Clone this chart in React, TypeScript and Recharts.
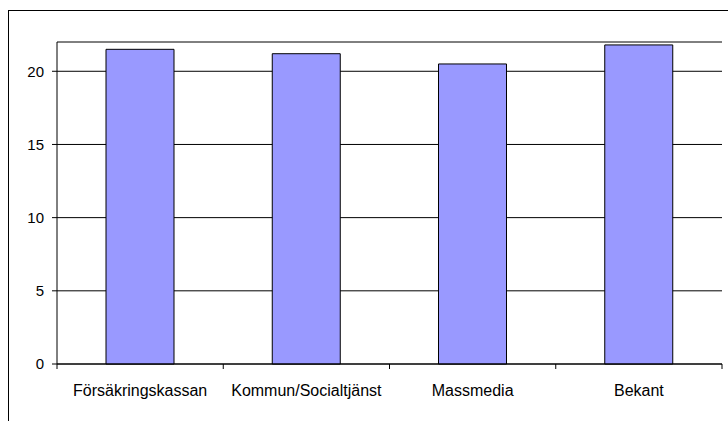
import { BarChart, Bar, XAxis, YAxis, CartesianGrid } from 'recharts';

const categories = ['Försäkringskassan', 'Kommun/Socialtjänst', 'Massmedia', 'Bekant'];
const values = [21.5, 21.2, 20.5, 21.8];
const yTicks = [0, 5, 10, 15, 20];

const data = categories.map((name, i) => ({ name, value: values[i] }));

const FONT = '"Liberation Sans", Arial, sans-serif';

// label in the middle of the band, tick marks on the band edges (Excel style)
function CategoryTick(props: any) {
  const { x, y, payload, index } = props;
  const half = payload.offset ?? 0;
  const last = index === categories.length - 1;
  return (
    <g>
      <line x1={x - half} x2={x - half} y1={y} y2={y + 5} stroke="#000" />
      {last && <line x1={x + half} x2={x + half} y1={y} y2={y + 5} stroke="#000" />}
      <text x={x} y={y + 32} textAnchor="middle" fontSize={16} fontFamily={FONT} fill="#000">
        {payload.value}
      </text>
    </g>
  );
}

export default function App() {
  return (
    <div style={{ position: 'absolute', left: 0, top: 0, width: 728, height: 421, overflow: 'hidden', background: '#fff' }}>
      <div style={{ position: 'absolute', left: 8, top: 10, width: 800, height: 500, border: '1px solid #000' }} />
      <div style={{ position: 'absolute', left: 0, top: 0 }}>
        <BarChart width={728} height={421} data={data} margin={{ top: 42, right: 6, bottom: 27, left: 0 }}>
          <CartesianGrid vertical={false} stroke="#000" />
          <XAxis
            dataKey="name"
            height={30}
            tickLine={false}
            tickSize={0}
            tickMargin={0}
            axisLine={{ stroke: '#000' }}
            tick={<CategoryTick />}
            interval={0}
          />
          <XAxis xAxisId="top" dataKey="name" orientation="top" height={0} tick={false} tickLine={false} axisLine={{ stroke: '#a0a0a0', strokeWidth: 2 }} />
          <YAxis
            domain={[0, 22]}
            ticks={yTicks}
            width={57}
            tickSize={5}
            tickMargin={8}
            interval={0}
            axisLine={{ stroke: '#000' }}
            tickLine={{ stroke: '#000' }}
            tick={{ fill: '#000', fontSize: 15, fontFamily: FONT }}
          />
          <YAxis yAxisId="r" orientation="right" domain={[0, 22]} width={0} tick={false} tickLine={false} axisLine={{ stroke: '#a0a0a0', strokeWidth: 2 }} />
          <Bar dataKey="value" fill="#9999ff" stroke="#000" strokeWidth={1} barSize={68} isAnimationActive={false} />
        </BarChart>
      </div>
    </div>
  );
}
